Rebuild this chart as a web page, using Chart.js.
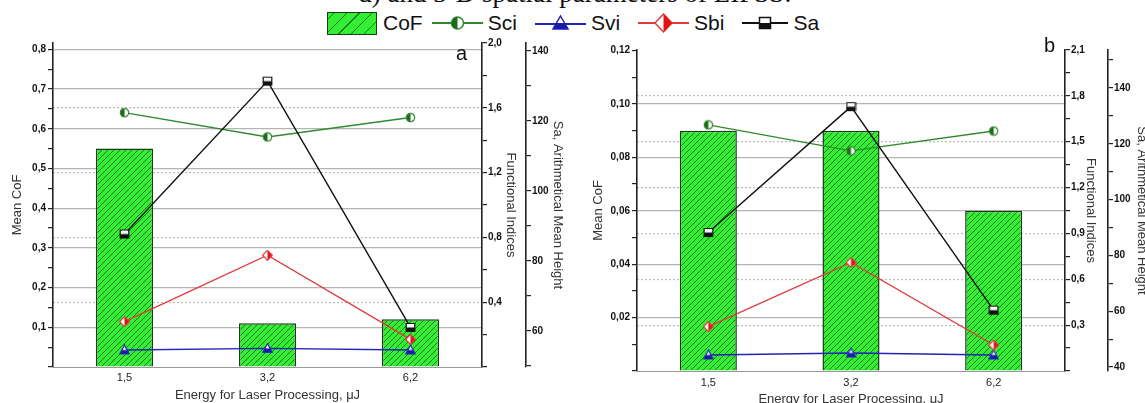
<!DOCTYPE html>
<html lang="en">
<head>
<meta charset="utf-8">
<title>Mean CoF and surface indices vs laser energy</title>
<script src="https://cdn.jsdelivr.net/npm/chart.js"></script>
<style>
    html, body { margin: 0; padding: 0; background: #fff; overflow: hidden; width: 1145px; height: 403px; }
    body { position: relative; font-family: "Liberation Sans", Arial, sans-serif; color: #111; }
    .cap { position: absolute; top: -22px; left: 0; width: 1150px; text-align: center; white-space: nowrap;
           font: 27px "Liberation Serif", "Times New Roman", serif; color: #111; }
    #legend { position: absolute; top: 11px; left: 327px; height: 24px; display: flex;
              align-items: center; font-size: 21px; line-height: 24px; }
    #legend .item { display: flex; align-items: center; margin-left: 18px; }
    #legend .item.first { margin-left: 0; }
    #legend .item.second { margin-left: 9px; }
    #legend .box { width: 48px; height: 21px; border: 1px solid #1b3b1b; margin-right: 6px;
                   background: repeating-linear-gradient(-45deg, #33ee33 0 8px, #1f7a1f 8px 9px); }
    #legend svg { margin-right: 5px; }
    canvas { position: absolute; top: 0; }
    #chartA { left: 0; }
    #chartB { left: 575px; }
    .tag { position: absolute; font-size: 20px; }
</style>
</head>
<body>
    <div class="cap">d) and 3-D spatial parameters of LIPSS:</div>

    <div id="legend">
        <div class="item first"><span class="box"></span>CoF</div>
        <div class="item second">
            <svg width="51" height="22"><line x1="0" y1="11" x2="51" y2="11" stroke="#2f8a2f" stroke-width="2"/>
                <circle cx="25.5" cy="11" r="6" fill="#fff" stroke="#2f8a2f" stroke-width="1.5"/>
                <path d="M25.5,5 A6,6 0 0,0 25.5,17 Z" fill="#1d6b1d"/></svg>Sci</div>
        <div class="item">
            <svg width="51" height="22"><line x1="0" y1="12" x2="51" y2="12" stroke="#2323b8" stroke-width="2"/>
                <polygon points="25.5,4 33,17 18,17" fill="#fff" stroke="#2323b8" stroke-width="1.5"/>
                <polygon points="21.5,11 29.5,11 33,17 18,17" fill="#1a1aa8"/></svg>Svi</div>
        <div class="item">
            <svg width="51" height="22"><line x1="0" y1="11" x2="51" y2="11" stroke="#e03a3a" stroke-width="2"/>
                <polygon points="25.5,2 34,11 25.5,20 17,11" fill="#fff" stroke="#e03a3a" stroke-width="1.5"/>
                <polygon points="25.5,2 34,11 25.5,20" fill="#e01414"/></svg>Sbi</div>
        <div class="item">
            <svg width="46" height="22"><line x1="0" y1="11" x2="46" y2="11" stroke="#111" stroke-width="2"/>
                <rect x="17.5" y="5.5" width="11" height="11" fill="#fff" stroke="#111" stroke-width="1.5"/>
                <rect x="17.5" y="11" width="11" height="5.5" fill="#111"/></svg>Sa</div>
    </div>

    <canvas id="chartA" width="566" height="403"></canvas>
    <canvas id="chartB" width="575" height="410"></canvas>

    <div class="tag" style="left:456px; top:42px;">a</div>
    <div class="tag" style="left:1044px; top:34px;">b</div>

<script>
    // x categories (laser pulse energy, uJ)
    const energy = ['1,5', '3,2', '6,2'];

    // panel a
    const cofA = [0.55, 0.11, 0.12];
    const sciA = [1.57, 1.42, 1.54];
    const sviA = [0.105, 0.115, 0.105];
    const sbiA = [0.28, 0.69, 0.17];
    const saA  = [87.7, 131.4, 61.0];

    // panel b
    const cofB = [0.09, 0.09, 0.06];
    const sciB = [1.61, 1.44, 1.57];
    const sviB = [0.105, 0.118, 0.105];
    const sbiB = [0.29, 0.71, 0.17];
    const saB  = [88.2, 133.3, 60.4];

    const FONT = '"Liberation Sans", Arial, sans-serif';
    const AXIS = '#222';

    function hatchPattern() {
        const c = document.createElement('canvas');
        c.width = 6; c.height = 6;
        const g = c.getContext('2d');
        g.fillStyle = '#33ee33';
        g.fillRect(0, 0, 6, 6);
        g.strokeStyle = '#1f7a1f';
        g.lineWidth = 1;
        g.beginPath();
        g.moveTo(-1, 7); g.lineTo(7, -1);
        g.moveTo(-1, 1); g.lineTo(1, -1);
        g.moveTo(5, 7); g.lineTo(7, 5);
        g.stroke();
        return g.createPattern(c, 'repeat');
    }

    // half filled Origin style symbols
    function marker(kind, stroke, fill) {
        const s = 11, c = document.createElement('canvas');
        c.width = s; c.height = s;
        const g = c.getContext('2d');
        g.lineWidth = 1.2;
        g.strokeStyle = stroke;
        g.fillStyle = '#fff';
        const m = s / 2;
        g.beginPath();
        if (kind === 'circle') g.arc(m, m, 4.2, 0, Math.PI * 2);
        if (kind === 'triangle') { g.moveTo(m, 0.8); g.lineTo(s - 0.8, s - 1.5); g.lineTo(0.8, s - 1.5); g.closePath(); }
        if (kind === 'diamond') { g.moveTo(m, 0.6); g.lineTo(s - 0.6, m); g.lineTo(m, s - 0.6); g.lineTo(0.6, m); g.closePath(); }
        if (kind === 'square') g.rect(1.2, 1.5, s - 2.4, s - 3);
        g.fill();
        g.save();
        g.clip();
        g.fillStyle = fill;
        if (kind === 'circle') g.fillRect(0, 0, m, s);
        if (kind === 'diamond') g.fillRect(m, 0, m, s);
        if (kind === 'triangle') g.fillRect(0, m, s, s);
        if (kind === 'square') g.fillRect(0, m, s, s);
        g.restore();
        g.stroke();
        return c;
    }

    const isMajor = (v, step) => Math.abs(v / step - Math.round(v / step)) < 1e-6;
    const fmt = (v, d) => v.toFixed(d).replace('.', ',');

    function yAxis(side, min, max, minor, major, dec, title, width, titlePad, grid) {
        return {
            position: side,
            min: min, max: max,
            afterFit: s => { s.width = width; },
            border: { color: AXIS, width: 1.6, dash: grid ? grid.dash : [] },
            grid: {
                drawOnChartArea: !!grid,
                color: c => (grid && c.tick && c.tick.value > min + 1e-9 && c.tick.value < grid.top && isMajor(c.tick.value, major)) ? grid.color : 'rgba(0,0,0,0)',
                tickColor: AXIS, tickLength: 5, tickWidth: 1.2, lineWidth: 1.2
            },
            ticks: {
                stepSize: minor, includeBounds: false, autoSkip: false, padding: side === 'left' ? 2 : 1,
                color: '#111', font: { family: FONT, size: 10, weight: 'bold' },
                callback: v => (isMajor(v, major) && v > 1e-9) ? fmt(v, dec) : ''
            },
            title: { display: true, text: title, color: '#333', font: { family: FONT, size: 13 }, padding: { top: titlePad, bottom: 0 } }
        };
    }

    function makeChart(id, cof, sci, svi, sbi, sa, cfg) {
        const hatch = hatchPattern();
        return new Chart(document.getElementById(id), {
            data: {
                labels: energy,
                datasets: [
                    { type: 'line', label: 'Sa', data: sa, yAxisID: 'ySa', borderColor: '#111', borderWidth: 1.4,
                      pointStyle: marker('square', '#111', '#111'), pointRadius: 5, order: 0 },
                    { type: 'line', label: 'Sbi', data: sbi, yAxisID: 'yFI', borderColor: '#e03a3a', borderWidth: 1.4,
                      pointStyle: marker('diamond', '#e03a3a', '#e01414'), pointRadius: 5, order: 1 },
                    { type: 'line', label: 'Svi', data: svi, yAxisID: 'yFI', borderColor: '#2323b8', borderWidth: 1.4,
                      pointStyle: marker('triangle', '#2323b8', '#1a1aa8'), pointRadius: 5, order: 2 },
                    { type: 'line', label: 'Sci', data: sci, yAxisID: 'yFI', borderColor: '#2f8a2f', borderWidth: 1.4,
                      pointStyle: marker('circle', '#2f8a2f', '#1d6b1d'), pointRadius: 5, order: 3 },
                    { type: 'bar', label: 'CoF', data: cof, yAxisID: 'y', backgroundColor: hatch,
                      borderColor: '#1b3b1b', borderWidth: 1.5, barPercentage: 0.4, categoryPercentage: 1, order: 9 }
                ]
            },
            options: {
                responsive: false,
                animation: false,
                devicePixelRatio: 1,
                layout: { padding: { top: cfg.top, left: 0, right: 0, bottom: 0 } },
                plugins: { legend: { display: false }, tooltip: { enabled: false } },
                scales: {
                    x: {
                        type: 'category', offset: true,
                        afterFit: s => { s.height = cfg.xh; },
                        grid: { display: false, drawTicks: false },
                        border: { color: '#999', width: 1 },
                        ticks: { color: '#222', font: { family: FONT, size: 11 }, padding: cfg.xpad },
                        title: { display: true, text: 'Energy for Laser Processing, \u03bcJ', color: '#333',
                                 font: { family: FONT, size: 13 }, padding: { top: 0, bottom: cfg.xtp } }
                    },
                    y: yAxis('left', 0, cfg.cofMax, cfg.cofMinor, cfg.cofMajor, cfg.cofDec, 'Mean CoF', cfg.lw, cfg.ltp,
                             { color: '#b4b4b4', dash: [], top: cfg.cofMax - 1e-3 }),
                    yFI: yAxis('right', 0, cfg.fiMax, cfg.fiMinor, cfg.fiMajor, 1, 'Functional Indices', cfg.fw, cfg.ftp,
                               { color: '#bcbcbc', dash: [2, 2], top: cfg.fiMax - 1e-3 }),
                    ySa: yAxis('right', cfg.saMin, cfg.saMax, 10, 20, 0, 'Sa, Arithmetical Mean Height', cfg.sw, cfg.stp, null)
                }
            }
        });
    }

    makeChart('chartA', cofA, sciA, sviA, sbiA, saA, {
        top: 43, xh: 36, xpad: 4, xtp: 0,
        cofMax: 0.816, cofMinor: 0.05, cofMajor: 0.1, cofDec: 1, lw: 53, ltp: 10,
        fiMax: 2.0, fiMinor: 0.2, fiMajor: 0.4, fw: 44, ftp: 8,
        saMin: 49.7, saMax: 142.3, sw: 40, stp: 1
    });

    makeChart('chartB', cofB, sciB, sviB, sbiB, saB, {
        top: 50, xh: 39, xpad: 5, xtp: 3,
        cofMax: 0.1202, cofMinor: 0.01, cofMajor: 0.02, cofDec: 2, lw: 62, ltp: 16,
        fiMax: 2.1, fiMinor: 0.15, fiMajor: 0.3, fw: 43, ftp: 10,
        saMin: 38.6, saMax: 153.6, sw: 42, stp: 1
    });
</script>
</body>
</html>
